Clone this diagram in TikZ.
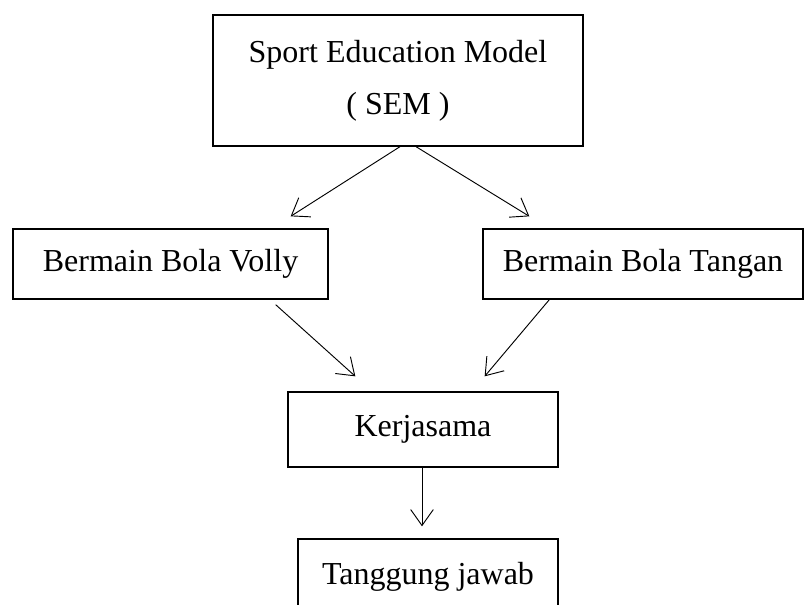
\documentclass[tikz,border=0pt]{standalone}
\usepackage{fontspec}
\setmainfont{Liberation Serif}
\usepackage{tikz}
\usetikzlibrary{arrows.meta}
\tikzset{
% Boxes and arrows of the scheme
box/.style={draw,line width=1pt,inner sep=0pt,align=center,font=\fontsize{24pt}{39pt}\selectfont},
arr/.style={-{Straight Barb[length=12pt,width=17pt]},line width=0.7pt}
}

\begin{document}
\begin{tikzpicture}[x=0.75pt,y=-0.75pt]
\useasboundingbox (0,0) rectangle (804,605);
\node[box,minimum width=277.5pt,minimum height=98.25pt] (SEM) at (398,80.5) {Sport Education Model\\( SEM )};
\node[box,minimum width=236.25pt,minimum height=52.5pt] (Volly) at (170.5,264) {Bermain Bola Volly};
\node[box,minimum width=240pt,minimum height=52.5pt] (Tangan) at (643,264) {Bermain Bola Tangan};
\node[box,minimum width=202.5pt,minimum height=56.25pt] (Kerja) at (423,429.5) {Kerjasama};
\node[box,minimum width=195pt,minimum height=56.25pt] (Tanggung) at (428,576.5) {Tanggung jawab};

\path [arr] ([shift={(2,0)}]SEM.south) edge ([shift={(-38,-12)}]Volly.north east);
\path [arr] ([shift={(18,0)}]SEM.south) edge ([shift={(47,-12)}]Tangan.north west);
\path [arr] ([shift={(-53,5)}]Volly.south east) edge ([shift={(68,-15)}]Kerja.north west);
\path [arr] ([shift={(67,0)}]Tangan.south west) edge ([shift={(-74,-15)}]Kerja.north east);
\path [arr] ([shift={(-1,0)}]Kerja.south) edge ([shift={(-6,-12)}]Tanggung.north);
\end{tikzpicture}
\end{document}
